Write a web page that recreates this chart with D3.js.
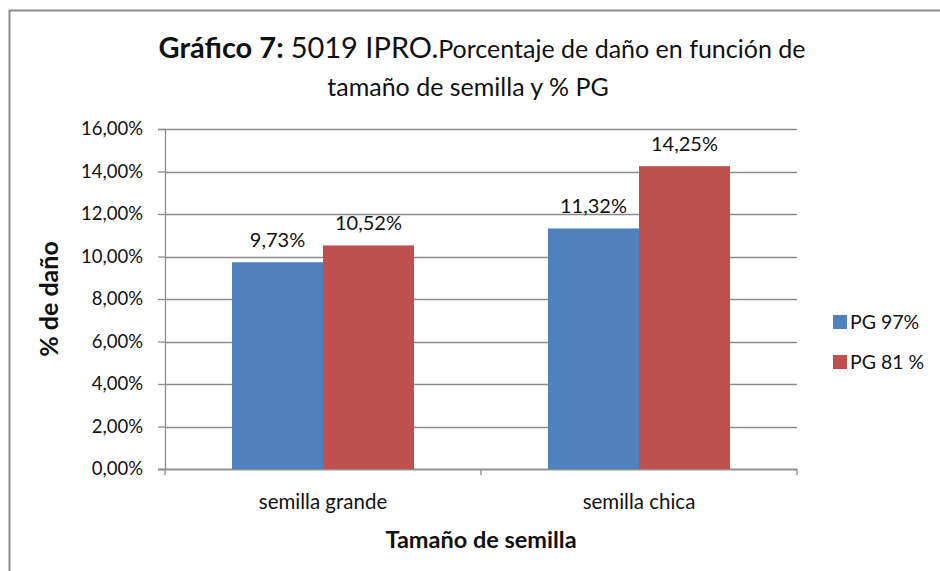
<!DOCTYPE html>
<html>
<head>
<meta charset="utf-8">
<script src="https://cdn.jsdelivr.net/npm/d3@7"></script>
<style>
  body { margin: 0; background: #fff; }
  text { font-family: Lato, "Open Sans", sans-serif; fill: #111; }
</style>
</head>
<body>
<div id="chart"></div>
<script>
// data
var categories = ["semilla grande", "semilla chica"];
var seriesNames = ["PG 97%", "PG 81 %"];
var pg97 = [9.73, 11.32];
var pg81 = [10.52, 14.25];
var yTicks = [0, 2, 4, 6, 8, 10, 12, 14, 16];

var colors = ["#4f81bd", "#c0504d"];

var width = 940, height = 571;
var margin = {top: 129, left: 165, right: 143, bottom: 102};
var plotW = width - margin.left - margin.right,
    plotH = height - margin.top - margin.bottom;

// comma as decimal separator
var es = d3.formatLocale({decimal: ",", thousands: ".", grouping: [3], currency: ["", "€"]});
var fmt = es.format(".2f");

var svg = d3.select("#chart").append("svg")
  .attr("width", width)
  .attr("height", height);

// outer frame (cut at right and bottom like the picture)
svg.append("rect")
  .attr("x", 9.5).attr("y", 10.5)
  .attr("width", 960).attr("height", 600)
  .attr("fill", "none")
  .attr("stroke", "#8c8c8c")
  .attr("stroke-width", 2);

var g = svg.append("g")
  .attr("transform", "translate(" + margin.left + "," + margin.top + ")");

var x0 = d3.scaleBand()
  .domain(categories)
  .range([0, plotW])
  .paddingInner(0.424)
  .paddingOuter(0.212);

var x1 = d3.scaleBand()
  .domain(seriesNames)
  .range([0, x0.bandwidth()]);

var y = d3.scaleLinear()
  .domain([0, 16])
  .range([plotH, 0]);

// gridlines
g.append("g")
  .selectAll("line")
  .data(yTicks)
  .enter().append("line")
  .attr("x1", 0).attr("x2", plotW)
  .attr("y1", function(d) { return Math.round(y(d)) + 0.5; })
  .attr("y2", function(d) { return Math.round(y(d)) + 0.5; })
  .attr("stroke", "#8c8c8c")
  .attr("stroke-width", 1.3);

// y axis
var yAxis = g.append("g")
  .call(d3.axisLeft(y).tickValues(yTicks).tickSize(7).tickPadding(15)
    .tickFormat(function(d) { return fmt(d) + "%"; }));
yAxis.select(".domain").attr("stroke", "#8c8c8c").attr("stroke-width", 1.3);
yAxis.selectAll(".tick line").attr("stroke", "#8c8c8c").attr("stroke-width", 1.3);
yAxis.selectAll("text")
  .style("font-family", "Lato, 'Open Sans', sans-serif")
  .style("font-size", "18.5px").attr("fill", "#111");

// x axis (ticks at category boundaries)
var xAxisG = g.append("g").attr("transform", "translate(0," + plotH + ")");
xAxisG.append("line")
  .attr("x1", -7).attr("x2", plotW)
  .attr("y1", 0.5).attr("y2", 0.5)
  .attr("stroke", "#8c8c8c").attr("stroke-width", 1.3);
xAxisG.selectAll(".xtick")
  .data([0, plotW / 2, plotW])
  .enter().append("line")
  .attr("class", "xtick")
  .attr("x1", function(d) { return d; }).attr("x2", function(d) { return d; })
  .attr("y1", 0).attr("y2", 6)
  .attr("stroke", "#8c8c8c").attr("stroke-width", 1.3);
xAxisG.selectAll(".xlab")
  .data(categories)
  .enter().append("text")
  .attr("class", "xlab")
  .attr("x", function(d) { return x0(d) + x0.bandwidth() / 2; })
  .attr("y", 40)
  .attr("text-anchor", "middle")
  .style("font-size", "20.5px")
  .text(function(d) { return d; });

// bars
var rows = categories.map(function(c, i) {
  return {cat: c, vals: [{s: seriesNames[0], v: pg97[i], c: colors[0]},
                         {s: seriesNames[1], v: pg81[i], c: colors[1]}]};
});

var groups = g.selectAll(".grp")
  .data(rows)
  .enter().append("g")
  .attr("class", "grp")
  .attr("transform", function(d) { return "translate(" + x0(d.cat) + ",0)"; });

groups.selectAll("rect")
  .data(function(d) { return d.vals; })
  .enter().append("rect")
  .attr("x", function(d) { return x1(d.s); })
  .attr("width", x1.bandwidth())
  .attr("y", function(d) { return y(d.v); })
  .attr("height", function(d) { return plotH - y(d.v); })
  .attr("fill", function(d) { return d.c; });

// value labels
groups.selectAll(".val")
  .data(function(d) { return d.vals; })
  .enter().append("text")
  .attr("class", "val")
  .attr("x", function(d) { return x1(d.s) + x1.bandwidth() / 2; })
  .attr("y", function(d) { return y(d.v) - 15; })
  .attr("text-anchor", "middle")
  .style("font-size", "20px")
  .text(function(d) { return fmt(d.v) + "%"; });

// axis titles
svg.append("text")
  .attr("x", margin.left + plotW / 2)
  .attr("y", 548)
  .attr("text-anchor", "middle")
  .style("font-size", "23.5px")
  .style("font-weight", "bold")
  .text("Tamaño de semilla");

svg.append("text")
  .attr("transform", "translate(58,299) rotate(-90)")
  .attr("text-anchor", "middle")
  .style("font-size", "25px")
  .style("font-weight", "bold")
  .text("% de daño");

// title
var t1 = svg.append("text")
  .attr("x", 482).attr("y", 58)
  .attr("text-anchor", "middle");
t1.append("tspan").style("font-size", "29px").style("font-weight", "bold").text("Gráfico 7: ");
t1.append("tspan").style("font-size", "29px").text("5019 IPRO.");
t1.append("tspan").style("font-size", "25px").text("Porcentaje de daño en función de");

svg.append("text")
  .attr("x", 468).attr("y", 96)
  .attr("text-anchor", "middle")
  .style("font-size", "25px")
  .text("tamaño de semilla y % PG");

// legend
var legend = svg.selectAll(".legend")
  .data(seriesNames)
  .enter().append("g")
  .attr("class", "legend")
  .attr("transform", function(d, i) { return "translate(833," + (315 + i * 40) + ")"; });

legend.append("rect")
  .attr("width", 14).attr("height", 14)
  .attr("fill", function(d, i) { return colors[i]; });

legend.append("text")
  .attr("x", 17).attr("y", 14)
  .style("font-size", "19.5px")
  .text(function(d) { return d; });
</script>
</body>
</html>
